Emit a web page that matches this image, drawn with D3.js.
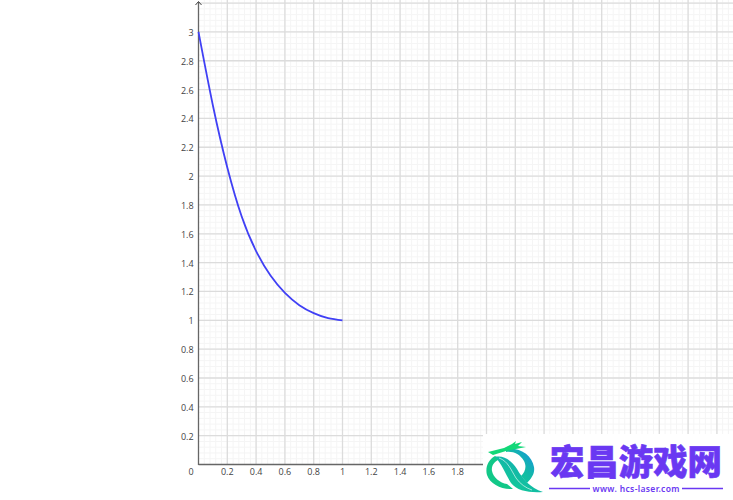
<!DOCTYPE html>
<html><head><meta charset="utf-8">
<script src="https://cdn.jsdelivr.net/npm/d3@7"></script>
<style>html,body{margin:0;padding:0;background:#fff}svg{display:block}</style></head>
<body><div id="c"></div>
<script>
const curveX=[0,0.1,0.2,0.3,0.4,0.5,0.6,0.7,0.8,0.9,1];
const curveY=[3,2.49,2.06,1.72,1.48,1.31,1.19,1.105,1.05,1.015,1];
const xTicks=[0.2,0.4,0.6,0.8,1,1.2,1.4,1.6,1.8];
const yTicks=[0.2,0.4,0.6,0.8,1,1.2,1.4,1.6,1.8,2,2.2,2.4,2.6,2.8,3];
const originLabel="0";
const brandText="宏昌游戏网";
const brandUrl="www. hcs-laser.com";

const W=733,H=500;
const svg=d3.select("#c").append("svg").attr("width",W).attr("height",H);
const x=d3.scaleLinear().domain([0,3.72]).range([198.5,198.5+144*3.72]);
const y=d3.scaleLinear().domain([0,3.2]).range([464.5,464.5-144.2*3.2]);
const minorX=d3.range(1,93).map(i=>i*0.04);
const minorY=d3.range(1,81).map(i=>i*0.04);
const majorX=d3.range(1,19).map(i=>i*0.2);
const majorY=d3.range(1,17).map(i=>i*0.2);
const g=svg.append("g");
const gTop=0,gBottom=y(0),gLeft=x(0),gRight=W;
g.selectAll(".mx").data(minorX).join("line").attr("x1",d=>x(d)).attr("x2",d=>x(d)).attr("y1",gTop).attr("y2",gBottom).attr("stroke","#f5f5f5").attr("stroke-width",1);
g.selectAll(".my").data(minorY).join("line").attr("y1",d=>y(d)).attr("y2",d=>y(d)).attr("x1",gLeft).attr("x2",gRight).attr("stroke","#f5f5f5").attr("stroke-width",1);
g.selectAll(".Mx").data(majorX).join("line").attr("x1",d=>x(d)).attr("x2",d=>x(d)).attr("y1",gTop).attr("y2",gBottom).attr("stroke","#dcdcdc").attr("stroke-width",1.3);
g.selectAll(".My").data(majorY).join("line").attr("y1",d=>y(d)).attr("y2",d=>y(d)).attr("x1",gLeft).attr("x2",gRight).attr("stroke","#dcdcdc").attr("stroke-width",1.3);
// axes
const ax="#666";
g.append("line").attr("x1",gLeft).attr("x2",gLeft).attr("y1",2).attr("y2",gBottom+.5).attr("stroke",ax).attr("stroke-width",1.3);
g.append("line").attr("x1",gLeft).attr("x2",gRight).attr("y1",gBottom).attr("y2",gBottom).attr("stroke",ax).attr("stroke-width",1.3);
g.append("path").attr("d",`M${gLeft-3},5 L${gLeft},1.5 L${gLeft+3},5`).attr("fill","none").attr("stroke","#444").attr("stroke-width",1);
// curve
const line=d3.line().x((d,i)=>x(curveX[i])).y(d=>y(d)).curve(d3.curveNatural);
g.append("path").attr("d",line(curveY)).attr("fill","none").attr("stroke","#4040f5").attr("stroke-width",1.8);
// labels
const font="'Open Sans','Noto Sans',sans-serif";
svg.selectAll(".xl").data(xTicks).join("text").attr("x",d=>x(d)).attr("y",474.5).attr("text-anchor","middle").attr("font-family",font).attr("font-size",9).attr("fill","#444").text(d=>d);
svg.selectAll(".yl").data(yTicks).join("text").attr("x",193.6).attr("y",d=>y(d)+4).attr("text-anchor","end").attr("font-family",font).attr("font-size",9).attr("fill","#444").text(d=>d);
svg.append("text").attr("x",191).attr("y",474.5).attr("text-anchor","middle").attr("font-family",font).attr("font-size",9).attr("fill","#444").text(originLabel);
// watermark
const wm=svg.append("g");
wm.append("rect").attr("x",483).attr("y",434).attr("width",250).attr("height",66).attr("fill","#fff");
const defs=svg.append("defs");
const gr=defs.append("linearGradient").attr("id","lg").attr("x1","0").attr("y1","1").attr("x2","1").attr("y2","0");
gr.append("stop").attr("offset","0").attr("stop-color","#12d68c");
gr.append("stop").attr("offset","0.55").attr("stop-color","#12b8a8");
gr.append("stop").attr("offset","1").attr("stop-color","#1890e8");
// right arc of the ring
wm.append("path").attr("d","M506,449 C520,447 532,455 534,467 C535,473 532,478 527,483 L521,476 C525,472 527,467 524,461 C520,454 513,451 506,452 Z").attr("fill","url(#lg)");
// head and feathers
wm.append("path").attr("d","M488,452 L504,448 L512,444 L516,441 L515,444 L522,442 L518,446 L526,447 L516,449 L506,451 L493,455 Z").attr("fill","#12d878");
// left arc
wm.append("path").attr("d","M495,456 C488,460 485,468 487,475 C490,484 502,490 513,489 L507,484 C500,483 493,477 492,471 C491,465 495,461 500,459 Z").attr("fill","#12c888");
// central ribbon
wm.append("path").attr("d","M495,457 C504,455 512,461 517,469 C522,478 530,488 543,492 C530,493 517,491 511,483 C506,475 502,464 495,457 Z").attr("fill","url(#lg)");
wm.append("path").attr("d","M499,458 C508,461 511,470 516,478 C520,484 526,488 532,490").attr("fill","none").attr("stroke","#fff").attr("stroke-width",0.6);
wm.append("text").attr("x",550).attr("y",475).attr("font-family","'Noto Sans CJK SC'").attr("font-weight",900).attr("font-size",35).attr("fill","#6a38f2").attr("stroke","#6a38f2").attr("stroke-width",0.6).attr("textLength",172).attr("lengthAdjust","spacingAndGlyphs").text(brandText);
wm.append("line").attr("x1",549).attr("x2",590).attr("y1",488.5).attr("y2",488.5).attr("stroke","#6a38f2").attr("stroke-width",1.3);
wm.append("line").attr("x1",682).attr("x2",723).attr("y1",488.5).attr("y2",488.5).attr("stroke","#6a38f2").attr("stroke-width",1.3);
wm.append("text").attr("x",636).attr("y",491.5).attr("text-anchor","middle").attr("font-family","'Noto Sans','Open Sans',sans-serif").attr("font-weight",600).attr("font-size",8.5).attr("fill","#6a38f2").attr("textLength",87).text(brandUrl);
</script></body></html>
